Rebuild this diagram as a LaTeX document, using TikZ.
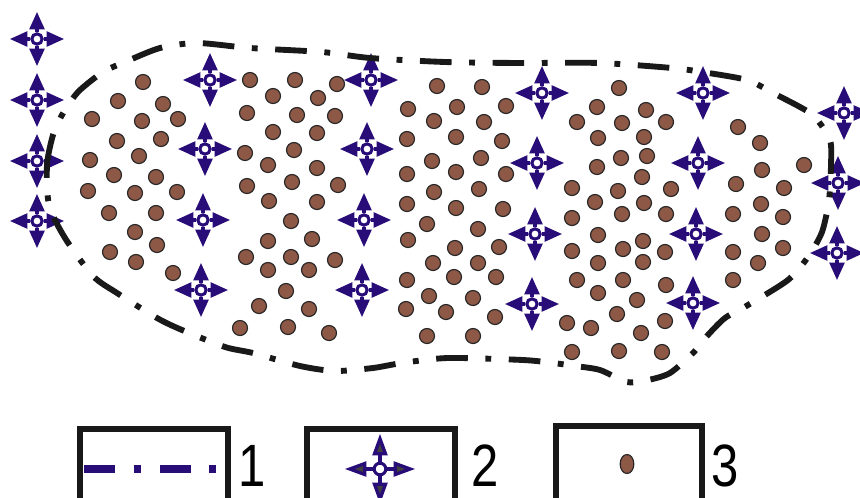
\documentclass[tikz,border=0pt]{standalone}
\usepackage{graphicx}
\usepackage{fontspec}
\setmainfont{Liberation Sans}
\usetikzlibrary{arrows.meta,shapes.geometric}
\definecolor{wellblue}{RGB}{40,12,120}
\definecolor{dotbrown}{RGB}{142,88,70}
\tikzset{
  contour/.style={line width=5pt, black!90, dash pattern=on 27pt off 15pt on 5pt off 15pt},
  dotnode/.style={circle, fill=dotbrown, draw=black!85, line width=1pt, minimum size=0.45cm, inner sep=0pt},
  wellnode/.style={circle, draw=wellblue, fill=white, line width=2.6pt, minimum size=0.31cm, inner sep=0pt},
  wellarm/.style={wellblue, line width=3pt, -{Triangle[length=15pt,width=12.5pt]}},
  legbox/.style={draw=black!90, line width=5pt, inner sep=0pt},
  legline/.style={wellblue, line width=6pt, dash pattern=on 26.5pt off 16pt on 6pt off 16pt},
  legwell/.style={wellnode, minimum size=0.35cm},
  legarm/.style={wellblue, line width=2.8pt, -{Triangle[length=18.5pt,width=12.5pt,fill=black!75]}},
  leglbl/.style={font=\fontsize{51}{51}\selectfont, inner sep=0pt, anchor=base},
}

\begin{document}
\begin{tikzpicture}[x=0.03cm,y=-0.03cm]
  \useasboundingbox (0,0) rectangle (860,497);
  \clip (0,0) rectangle (860,497);

  % oil-bearing area (dots)
  \foreach \x/\y [count=\i] in {
    143/82,118/101,163/104,92/119,142/121,178/119,117/141,161/139,90/160,139/156,
    114/175,156/177,88/191,135/193,177/192,109/213,156/213,135/232,157/245,110/252,
    136/262,173/273,
    250/80,295/80,273/96,318/98,247/113,297/115,273/132,317/133,245/153,294/150,
    268/165,317/168,247/186,292/182,269/201,317/202,291/221,268/241,312/239,246/257,
    291/257,268/270,309/270,286/291,259/306,309/309,240/328,288/327,
    337/84,335/116,338/185,335/260,329/333,
    437/86,482/87,408/109,457/107,506/106,434/121,484/122,407/139,456/137,502/141,
    432/161,481/158,407/174,456/172,506/174,434/192,479/189,407/204,456/208,503/209,
    427/224,478/229,408/240,455/248,499/247,433/263,478/263,407/280,454/277,496/277,
    429/296,473/298,406/309,446/312,495/317,427/336,473/336,
    577/122,597/107,598/138,572/188,597/167,595/202,572/218,572/251,598/235,598/263,
    577/280,598/293,567/323,591/328,572/352,
    619/88,646/110,622/123,666/122,644/137,621/158,647/156,642/177,618/191,671/189,
    644/203,622/214,666/214,643/241,623/249,665/252,643/262,623/280,666/285,637/300,
    617/314,665/321,641/333,619/351,662/352,
    738/127,760/143,804/165,762/170,736/184,784/188,761/204,733/214,783/217,762/234,
    733/252,783/248,758/263,733/280}
    \node[dotnode] (d\i) at (\x,\y) {};

  % injection wells
  \foreach \x/\y [count=\i] in {
    37/39,37/100,37/161,37/221,
    210/80,205/149,203/220,201/290,
    371/80,367/149,364/220,362/290,
    542/93,537/163,535/234,532/304,
    703/93,698/163,696/234,693/303,
    844/113,838/183,837/253} {
    \node[wellnode] (w\i) at (\x,\y) {};
    \draw[wellarm] (w\i.north) -- ++(0,-20.5);
    \draw[wellarm] (w\i.south) -- ++(0,20.5);
    \draw[wellarm] (w\i.west) -- ++(-20.5,0);
    \draw[wellarm] (w\i.east) -- ++(20.5,0);
  }

  % contour
  \draw[contour] plot[smooth cycle, tension=0.45] coordinates {
    (49,205) (47,165) (53,135) (62,115) (78,92) (103,72) (125,62) (160,48)
    (197,43) (250,48) (322,52) (370,58) (445,62) (520,63) (600,63) (672,68)
    (702,72) (747,80) (773,93) (800,107) (815,117) (830,140) (831,165) (829,200)
    (822,232) (808,257) (788,280) (748,305) (725,318) (707,336) (693,353) (670,373)
    (648,380) (627,382) (600,370) (575,366) (553,363) (523,360) (448,358) (402,363)
    (373,368) (335,371) (300,366) (253,353) (225,347) (182,330) (157,318) (117,293)
    (93,276) (65,238)};

  % legend
  \node[legbox, minimum width=4.44cm, minimum height=2.43cm] (box1) at (154,469.5) {};
  \node[legbox, minimum width=4.44cm, minimum height=2.43cm] (box2) at (381,469.5) {};
  \node[legbox, minimum width=4.38cm, minimum height=2.52cm] (box3) at (629,468) {};
  \draw[legline] (84,469) -- (216,469);
  \node[legwell] (lw) at (380,469) {};
  \draw[legarm] (lw.north) -- ++(0,-28);
  \draw[legarm] (lw.south) -- ++(0,28);
  \draw[legarm] (lw.west) -- ++(-28,0);
  \draw[legarm] (lw.east) -- ++(28,0);
  \node[dotnode, ellipse, minimum width=0.41cm, minimum height=0.57cm] (ld) at (627,464) {};
  \node[leglbl] (lbl1) at (252,486) {\scalebox{0.82}[1]{1}};
  \node[leglbl] (lbl2) at (485,486) {\scalebox{0.82}[1]{2}};
  \node[leglbl] (lbl3) at (725,486) {\scalebox{0.82}[1]{3}};
\end{tikzpicture}
\end{document}
